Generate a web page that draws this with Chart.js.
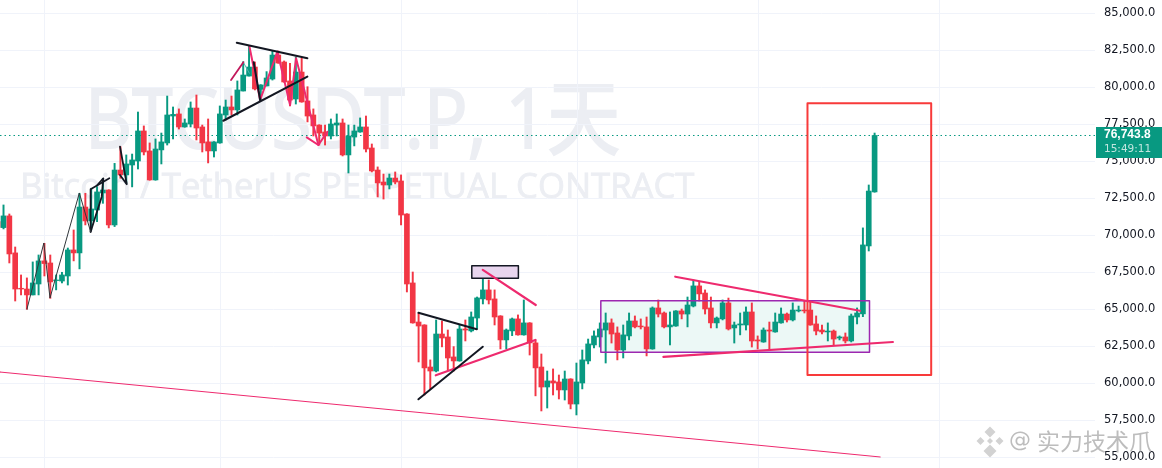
<!DOCTYPE html>
<html>
<head>
<meta charset="utf-8">
<title>BTCUSDT.P</title>
<script src="https://cdn.jsdelivr.net/npm/chart.js@4/dist/chart.umd.min.js"></script>
<style>
  html, body { margin: 0; padding: 0; background: #fff; overflow: hidden; }
  canvas { display: block; }
</style>
</head>
<body>
<canvas id="candleChart" width="1162" height="468"></canvas>
<script>
// daily candles
const opens = [
  70920, 70520, 71310, 68810, 66420, 66370, 65970, 66710, 68270, 68130,
  66940, 66910, 67250, 69010, 68810, 71910, 70970, 71710, 72860, 73060,
  70700, 74410, 74080, 74750, 75020, 77050, 75700, 73740, 75770, 76240,
  78060, 78200, 77320, 77520, 78600, 77320, 76310, 75700, 76240, 78130,
  78670, 78470, 79750, 80760, 81370, 79860, 80090, 80560, 82180, 81710,
  80430, 79210, 81030, 79080, 78130, 77450, 76980, 76710, 77450, 77590,
  75430, 76640, 76980, 77320, 75900, 74410, 73600, 73400, 73870, 73670,
  71440, 66780, 64140, 63940, 61100, 60830, 63330, 63130, 61780, 61510,
  63670, 63540, 64410, 65700, 66310, 65700, 64550, 62930, 63540, 64350,
  63270, 64080, 62730, 61100, 59750, 60160, 60090, 59550, 60290, 58600,
  60020, 61510, 62590, 63130, 63600, 64080, 63400, 62250, 63200, 64210,
  63870, 63810, 62320, 65090, 64750, 63810, 63870, 64890, 64680, 65220,
  66580, 66100, 65090, 64080, 64350, 65430, 63740, 63940, 63940, 64820,
  62930, 62790, 63600, 63470, 64080, 64680, 64280, 64890, 64950, 64950,
  64010, 63600, 63470, 63530, 63060, 63130, 62860, 64480, 64690, 69280,
  72930
];
const closes = [
  70540, 71310, 68740, 66370, 66370, 65970, 66780, 68270, 68090, 66850,
  66980, 67320, 69010, 68810, 71910, 70970, 71780, 72930, 73060, 70700,
  74410, 74080, 74820, 75090, 77050, 75630, 73740, 75830, 76310, 78130,
  78170, 77320, 77590, 78600, 77250, 76240, 75700, 76310, 78200, 78670,
  78470, 79820, 80830, 81370, 79890, 80160, 80630, 82180, 81640, 80360,
  79140, 81030, 79010, 78060, 77390, 76910, 76710, 77520, 77590, 75430,
  76710, 77050, 77320, 75830, 74350, 73540, 73400, 73870, 73600, 71370,
  66710, 64080, 63870, 61040, 60830, 63330, 63060, 61710, 61510, 63670,
  63600, 64480, 65770, 66310, 65630, 64480, 62930, 63600, 64350, 63270,
  64080, 62730, 61040, 59750, 60160, 60020, 59550, 60290, 58600, 60090,
  61580, 62660, 63200, 63670, 64080, 63330, 62250, 63270, 64210, 63810,
  63810, 62320, 65090, 64680, 63810, 63940, 64890, 64680, 65290, 66580,
  66040, 65020, 64080, 64410, 65430, 63670, 63940, 64010, 64820, 62860,
  62860, 63600, 63530, 64140, 64680, 64280, 64950, 64950, 64890, 63940,
  63530, 63470, 63530, 62990, 63130, 62860, 64550, 64750, 69350, 72990,
  76743.8
];
const highs = [
  71040, 72050, 71440, 69210, 67320, 67120, 68200, 68670, 69460, 68670,
  67320, 67500, 69140, 70360, 72840, 72840, 73180, 73290, 73850, 73080,
  74860, 75990, 75430, 75490, 78330, 77390, 76240, 76510, 76910, 79410,
  78670, 78540, 77860, 79010, 79480, 77450, 77860, 76330, 78740, 79140,
  79410, 80430, 81730, 82790, 81710, 80180, 81060, 82450, 82450, 81780,
  81620, 82050, 81980, 80040, 78540, 77470, 77450, 77860, 78200, 77860,
  77450, 77450, 77930, 78060, 76170, 74620, 74140, 74140, 74280, 74080,
  71460, 67520, 64730, 63960, 61580, 64280, 64210, 63600, 62480, 63940,
  64280, 64820, 65830, 67320, 66980, 66310, 64570, 63670, 64410, 64620,
  65630, 64100, 62930, 61980, 60830, 60970, 60560, 60830, 60310, 61370,
  62250, 62990, 63540, 64080, 64750, 64350, 63810, 63940, 64750, 64550,
  64350, 64480, 65160, 65630, 64820, 64820, 64910, 65020, 65830, 66980,
  66850, 66310, 65830, 64480, 65630, 65760, 64140, 64750, 65160, 65430,
  63200, 63740, 64140, 64750, 65090, 64750, 65430, 65220, 65560, 65490,
  64550, 63940, 64080, 63600, 63200, 63400, 64680, 65090, 70500, 73400,
  76910
];
const lows = [
  70470, 70430, 68130, 65560, 65970, 65000, 65970, 65970, 67250, 65740,
  66310, 66780, 66640, 68270, 67730, 70700, 70360, 70920, 72160, 70500,
  70590, 73850, 73510, 73270, 74480, 75430, 73720, 73720, 74820, 76100,
  76510, 77180, 77300, 77320, 76440, 75630, 74890, 75290, 76220, 77790,
  78130, 78130, 79750, 80760, 79820, 79140, 80090, 80490, 81620, 80340,
  78740, 78870, 78990, 77660, 76710, 76100, 76100, 76510, 76710, 75360,
  74210, 76040, 76960, 75630, 74280, 72590, 72450, 73130, 73470, 70700,
  66170, 64060, 61440, 59210, 59620, 60770, 62460, 60900, 60830, 61490,
  62860, 63470, 63670, 65360, 65360, 63940, 62320, 62320, 63220, 63250,
  63250, 61910, 59150, 58130, 58330, 59210, 58940, 58870, 58270, 57860,
  59620, 61310, 62390, 62450, 61370, 62720, 61580, 61710, 62930, 63740,
  63670, 61850, 62300, 64480, 63740, 62590, 63850, 64350, 63810, 65160,
  65560, 64680, 63740, 63740, 64280, 63600, 62720, 63270, 63600, 62450,
  62320, 62770, 62250, 63450, 64060, 64140, 64210, 64820, 64750, 63920,
  63270, 63330, 62860, 62590, 62930, 62720, 62790, 64010, 64500, 68940,
  72910
];

const priceTicks = [55000, 57500, 60000, 62500, 65000, 67500, 70000, 72500, 75000, 77500, 80000, 82500, 85000];
const monthTicks = [8, 38.2, 69.1, 99.1, 130.1, 161.1];
const lastPrice = 76743.8;
const countdown = '15:49:11';
const title = 'BTCUSDT.P, 1天';
const subtitle = 'Bitcoin / TetherUS PERPETUAL CONTRACT';
const credit = '实力技术爪';

// trendlines the author drew, [candle number, price]
const thinZigzag = [[5, 65000], [7.9, 69480], [8.95, 65760], [13.97, 72860], [15.9, 70240]];
const blackA = [[15.9, 70240], [15.9, 73110], [19.1, 73850]];
const blackB = [[15.9, 70240], [17.8, 72610], [18.07, 73850], [17.05, 73400]];
const blackC = [[20.93, 75990], [22.08, 73450], [20.93, 74070]];
const wedgeTop = [[40.9, 83010], [52.98, 81960]];
const wedgeBottom = [[38.6, 77740], [52.98, 80720]];
const darkRedLeg = [[39.92, 80490], [42.03, 81690]];
const tealLeg = [[42.03, 81690], [43.05, 80950]];
const pinkZigzag = [[43.05, 82790], [44.9, 79140], [47.84, 82410], [50.02, 78800], [51.04, 81960], [54.86, 76100], [56.4, 77000]];
const pinkHook = [[52.87, 76620], [54.86, 76100]];
const blackLeg = [[43.8, 81690], [44.9, 79140]];
const flagTop = [[71.97, 64770], [81.96, 63650]];
const flagBottom = [[71.97, 58920], [82.98, 62470]];
const pinkRise = [[74.94, 60540], [91.98, 62930]];
const pinkFall = [[82.98, 67660], [92.05, 65290]];
const longSupport = [[0.4, 60760], [150.96, 55020]];
const rangeUpper = [[115.9, 67200], [147.5, 64900]];
const rangeLower = [[113.88, 61780], [153.13, 62790]];
const rangeBox = { left: 103.17, right: 149.13, top: 65580, bottom: 62090 };
const labelBox = { left: 81.1, right: 89.07, top: 67950, bottom: 67090 };
const redBox = { left: 138.52, right: 159.68, top: 78920, bottom: 60560 };

const UP = '#089981';
const DOWN = '#f23645';
const PINK = '#ee2a6e';

const candleColors = opens.map((o, i) => closes[i] >= o ? UP : DOWN);

function toPoints(pairs) {
  return pairs.map(p => ({ x: p[0], y: p[1] }));
}
function lineSet(pairs, color, width, order) {
  return {
    type: 'line', data: toPoints(pairs), borderColor: color, borderWidth: width,
    pointRadius: 0, fill: false, tension: 0, order: order || 1,
    borderJoinStyle: 'round', borderCapStyle: 'round'
  };
}
function boxOutline(b) {
  return [[b.left, b.top], [b.right, b.top], [b.right, b.bottom], [b.left, b.bottom], [b.left, b.top]];
}
function boxFill(b, color, order) {
  return {
    type: 'line', data: toPoints([[b.left, b.top], [b.right, b.top]]), borderWidth: 0,
    borderColor: 'transparent', backgroundColor: color, pointRadius: 0,
    fill: { value: b.bottom }, order: order
  };
}

// logo, faint titles and the price tag are painted straight on the canvas
const paintExtras = {
  id: 'paintExtras',
  beforeDraw(chart) {
    const ctx = chart.ctx;
    ctx.save();
    ctx.fillStyle = '#eceef3';
    ctx.strokeStyle = '#eceef3';
    ctx.textBaseline = 'alphabetic';
    ctx.textAlign = 'left';
    ctx.font = '34.7px "Open Sans", sans-serif';
    ctx.lineWidth = 0.8;
    ctx.fillText(subtitle, 20, 198);
    ctx.strokeText(subtitle, 20, 198);
    ctx.translate(85, 148);
    ctx.scale(0.89, 1);
    ctx.font = '82px "Open Sans", "Noto Sans CJK SC", sans-serif';
    ctx.lineWidth = 2;
    ctx.fillText(title, 0, 0);
    ctx.strokeText(title, 0, 0);
    ctx.restore();
  },
  afterDraw(chart) {
    const ctx = chart.ctx;
    ctx.save();
    ctx.fillStyle = UP;
    ctx.fillRect(1096, 127, 66, 31);
    ctx.textBaseline = 'middle';
    ctx.textAlign = 'left';
    ctx.font = 'bold 12px "Liberation Sans", sans-serif';
    ctx.fillStyle = '#fff';
    ctx.fillText(lastPrice.toLocaleString('en-US', { minimumFractionDigits: 1 }), 1104, 134.5);
    ctx.font = '10.5px "DejaVu Sans", sans-serif';
    ctx.fillStyle = 'rgba(255,255,255,0.75)';
    ctx.fillText(countdown, 1104, 149);

    // credit mark, bottom right
    ctx.fillStyle = '#d2d2d2';
    [[990, 432, 5.5], [980.5, 441, 4], [999.5, 441, 4], [990, 441, 3], [990, 451, 6.5]].forEach(d => {
      ctx.beginPath();
      ctx.moveTo(d[0], d[1] - d[2]);
      ctx.lineTo(d[0] + d[2], d[1]);
      ctx.lineTo(d[0], d[1] + d[2]);
      ctx.lineTo(d[0] - d[2], d[1]);
      ctx.closePath();
      ctx.fill();
    });
    ctx.fillStyle = '#bdbdbd';
    ctx.font = '22px "DejaVu Sans", sans-serif';
    ctx.fillText('@', 1009, 441);
    ctx.font = '23px "Noto Sans CJK SC", sans-serif';
    ctx.fillText(credit, 1037, 441);
    ctx.restore();
  }
};

const dottedLast = lineSet([[0.4, lastPrice], [187.7, lastPrice]], UP, 1, 15);
dottedLast.borderDash = [1.5, 3];
dottedLast.borderCapStyle = 'butt';

const ctx = document.getElementById('candleChart').getContext('2d');
new Chart(ctx, {
  type: 'bar',
  plugins: [paintExtras],
  data: {
    datasets: [
      boxFill(rangeBox, '#ecf8f6', 20),
      dottedLast,
      {
        label: 'wick',
        data: opens.map((o, i) => ({ x: i, y: [lows[i], highs[i]] })),
        backgroundColor: candleColors, barThickness: 1.3, grouped: false, order: 6
      },
      {
        label: 'body',
        data: opens.map((o, i) => ({ x: i, y: [o, closes[i]] })),
        backgroundColor: candleColors, barThickness: 5, grouped: false, order: 5
      },
      lineSet(boxOutline(rangeBox), '#9c27b0', 1.5, 4),
      boxFill(labelBox, '#e8d5ee', 4),
      lineSet(boxOutline(labelBox), '#131722', 1.5, 3),
      lineSet(thinZigzag, '#30363a', 1),
      lineSet(blackA, '#131722', 1.8),
      lineSet(blackB, '#131722', 1.8),
      lineSet(blackC, '#131722', 1.8),
      lineSet(wedgeTop, '#131722', 2),
      lineSet(wedgeBottom, '#131722', 2),
      lineSet(blackLeg, '#131722', 2),
      lineSet(darkRedLeg, '#c2185b', 1.8),
      lineSet(tealLeg, '#4db6ac', 1),
      lineSet(pinkZigzag, PINK, 2),
      lineSet(pinkHook, PINK, 2),
      lineSet(flagTop, '#131722', 2),
      lineSet(flagBottom, '#131722', 2),
      lineSet(pinkRise, PINK, 2.2),
      lineSet(pinkFall, PINK, 2.2),
      lineSet(longSupport, PINK, 1),
      lineSet(rangeUpper, PINK, 2.2),
      lineSet(rangeLower, PINK, 2.2),
      lineSet(boxOutline(redBox), '#f83a3a', 2, 0)
    ]
  },
  options: {
    responsive: false,
    animation: false,
    layout: { padding: 0 },
    plugins: {
      legend: { display: false },
      tooltip: { enabled: false }
    },
    scales: {
      x: {
        type: 'linear',
        min: 0.4,
        max: 187.7,
        offset: false,
        grid: { color: '#f0f3fa', drawTicks: false, offset: false },
        border: { display: false },
        ticks: { display: false, autoSkip: false },
        afterBuildTicks(scale) {
          scale.ticks = monthTicks.map(v => ({ value: v }));
        },
        afterFit(scale) {
          scale.height = 0;
          scale.paddingLeft = 0;
          scale.paddingRight = 0;
        }
      },
      y: {
        position: 'right',
        min: 54276,
        max: 85899,
        grid: { color: '#f0f3fa', drawTicks: false },
        border: { display: false },
        ticks: {
          autoSkip: false,
          padding: 9,
          color: '#131722',
          font: { family: '"DejaVu Sans", sans-serif', size: 11.5 },
          callback: v => v.toLocaleString('en-US', { minimumFractionDigits: 1 })
        },
        afterBuildTicks(scale) {
          scale.ticks = priceTicks.map(v => ({ value: v }));
        },
        afterFit(scale) {
          scale.width = 67;
          scale.paddingTop = 0;
          scale.paddingBottom = 0;
        }
      }
    }
  }
});
</script>
</body>
</html>
